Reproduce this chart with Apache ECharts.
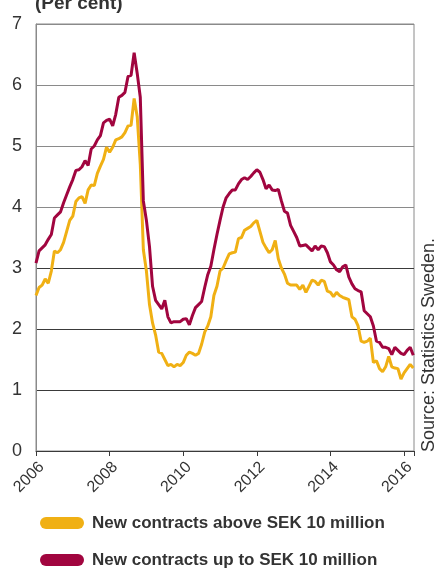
<!DOCTYPE html>
<html>
<head>
<meta charset="utf-8">
<script src="https://cdn.jsdelivr.net/npm/echarts@6/dist/echarts.min.js"></script>
<style>
  html, body { margin: 0; padding: 0; background: #fff; }
  #chart { width: 435px; height: 568px; }
</style>
</head>
<body>
<div id="chart"></div>
<script>
// monthly observations, first one is January 2006
const startYear = 2006;
const upTo10m = [
  3.08, 3.28, 3.33, 3.38, 3.47, 3.55, 3.82, 3.87, 3.92, 4.07, 4.2, 4.33,
  4.45, 4.6, 4.61, 4.66, 4.76, 4.68, 4.95, 5.0, 5.1, 5.17, 5.38, 5.42,
  5.44, 5.33, 5.52, 5.8, 5.83, 5.88, 6.14, 6.16, 6.53, 6.19, 5.8, 4.1,
  3.78, 3.35, 2.7, 2.47, 2.4, 2.33, 2.47, 2.2, 2.1, 2.12, 2.12, 2.12,
  2.16, 2.17, 2.07, 2.22, 2.35, 2.4, 2.45, 2.68, 2.89, 3.03, 3.3, 3.55,
  3.78, 4.0, 4.15, 4.22, 4.28, 4.28, 4.38, 4.45, 4.48, 4.45, 4.5, 4.56,
  4.61, 4.57, 4.45, 4.3, 4.36, 4.28, 4.27, 4.29, 4.1, 3.93, 3.9, 3.7,
  3.6, 3.5, 3.36, 3.37, 3.38, 3.33, 3.28, 3.36, 3.3, 3.36, 3.35, 3.25,
  3.1, 3.05, 2.97, 2.94, 3.02, 3.05, 2.85, 2.74, 2.66, 2.63, 2.61, 2.3,
  2.25, 2.2, 2.05, 1.8, 1.78, 1.7, 1.7, 1.68, 1.58, 1.7, 1.65, 1.6,
  1.58, 1.65, 1.7, 1.57
];
const above10m = [
  2.55, 2.68, 2.72, 2.82, 2.75, 2.95, 3.28, 3.25, 3.3, 3.42, 3.6, 3.78,
  3.85, 4.09, 4.15, 4.17, 4.06, 4.28, 4.36, 4.35, 4.55, 4.67, 4.78, 4.98,
  4.9, 4.98, 5.1, 5.12, 5.15, 5.22, 5.33, 5.34, 5.78, 5.48, 4.7, 3.3,
  2.95, 2.4, 2.1, 1.9, 1.62, 1.6, 1.5, 1.4, 1.42, 1.38, 1.42, 1.4,
  1.45, 1.57, 1.62, 1.6, 1.57, 1.6, 1.75, 1.95, 2.05, 2.2, 2.55, 2.7,
  2.95, 3.0, 3.12, 3.23, 3.25, 3.26, 3.48, 3.5, 3.62, 3.65, 3.68, 3.74,
  3.78, 3.6, 3.42, 3.33, 3.25, 3.3, 3.45, 3.15, 3.0, 2.9, 2.75, 2.72,
  2.72, 2.72, 2.65, 2.72, 2.6, 2.7, 2.8, 2.78, 2.72, 2.8, 2.78, 2.62,
  2.6, 2.53, 2.6, 2.55, 2.52, 2.5, 2.48, 2.2, 2.16, 2.05, 1.8, 1.78,
  1.8, 1.85, 1.45, 1.48, 1.35, 1.3, 1.38, 1.55, 1.38, 1.36, 1.35, 1.18,
  1.28, 1.35, 1.42, 1.36
];
const yTicks = [0, 1, 2, 3, 4, 5, 6, 7];
const seriesNames = ['New contracts above SEK 10 million', 'New contracts up to SEK 10 million'];

const toPairs = arr => arr.map((v, i) => [startYear + i / 12, v]);

const yellow = '#f0b014';
const maroon = '#a1053f';
const ink = '#333';
const darkRule = '#3a3a3a';
const lightRule = '#8a8a8a';
// pill shaped legend key
const pill = 'path://M6,0 H38 A6,6 0 0 1 38,12 H6 A6,6 0 0 1 6,0 Z';

const legendFor = (name, top) => ({
  orient: 'horizontal', left: 35, top: top,
  itemWidth: 44, itemHeight: 12, icon: pill,
  textStyle: { fontSize: 17, fontWeight: 'bold', color: ink, padding: [0, 0, 0, 3], lineHeight: 20 },
  data: [name]
});

const chart = echarts.init(document.getElementById('chart'));

chart.setOption({
  animation: false,
  textStyle: { fontFamily: 'Liberation Sans' },
  grid: {
    left: 36, right: 21, top: 24, bottom: 117,
    show: true, borderColor: lightRule, borderWidth: 1
  },
  graphic: [
    {
      type: 'text', left: 35, top: -6,
      style: { text: '(Per cent)', fontSize: 19, fontWeight: 'bold', fill: ink, fontFamily: 'Liberation Sans' }
    },
    {
      type: 'text', x: 420, y: 452, rotation: Math.PI / 2,
      style: { text: 'Source: Statistics Sweden.', fontSize: 18, fill: ink, fontFamily: 'Liberation Sans', align: 'left', verticalAlign: 'top' }
    }
  ],
  legend: [legendFor(seriesNames[0], 508), legendFor(seriesNames[1], 545)],
  xAxis: {
    type: 'value', min: 2006, max: 2016.27, interval: 2,
    axisLine: { lineStyle: { color: darkRule } },
    axisTick: { length: 5, lineStyle: { color: darkRule } },
    axisLabel: {
      rotate: 45, fontSize: 16, color: ink, margin: 8, verticalAlign: 'top',
      formatter: v => (Number.isInteger(v) ? String(v) : '')
    },
    splitLine: { show: false }
  },
  yAxis: {
    type: 'value', min: yTicks[0], max: yTicks[yTicks.length - 1], interval: 1,
    axisLine: { show: true, lineStyle: { color: lightRule } },
    axisTick: { show: false },
    axisLabel: { fontSize: 18, color: ink, margin: 14 },
    splitLine: {
      lineStyle: {
        color: [darkRule, darkRule, darkRule, darkRule, lightRule, lightRule, lightRule, lightRule]
      }
    }
  },
  series: [
    {
      name: seriesNames[0], type: 'line', data: toPairs(above10m),
      showSymbol: false, color: yellow,
      lineStyle: { width: 3, color: yellow }
    },
    {
      name: seriesNames[1], type: 'line', data: toPairs(upTo10m),
      showSymbol: false, color: maroon,
      lineStyle: { width: 3, color: maroon }
    }
  ]
});
</script>
</body>
</html>
